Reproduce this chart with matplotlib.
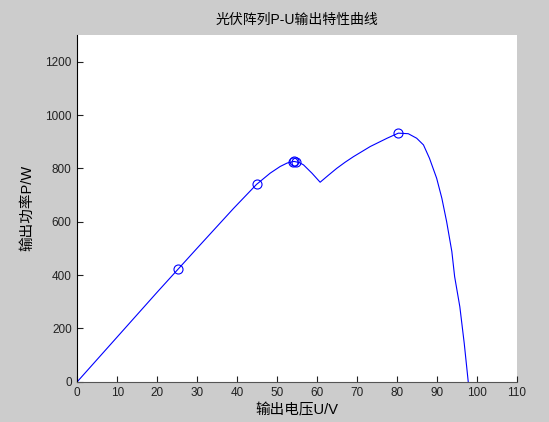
import matplotlib.pyplot as plt
import numpy as np

plt.rcParams['font.family'] = ['Liberation Sans', 'Noto Sans CJK SC', 'DejaVu Sans']

# P-U curve of the PV array under partial shading (two local maxima)
u = [0, 10, 20, 30, 39.1, 44.85, 48.25, 50.75, 52.5, 54.2, 55.5, 56.6, 58.7, 60.75,
     62.8, 64.9, 67, 69.1, 73.3, 77.5, 80.3, 82.8, 84.9, 86.6, 88.1, 89.9,
     91.2, 92.4, 93.7, 94.4, 95.7, 96.8, 97.8]
p = [0, 168, 336, 501, 650, 740, 782, 807, 820, 826, 822, 813, 782, 748,
     774, 800, 823, 844, 882, 913, 932, 930, 913, 888, 838, 763,
     688, 600, 488, 394, 281, 144, 0]

# sampled operating points from the MPPT search
u_mark = [25.2, 44.85, 53.9, 54.3, 54.7, 80.3]
p_mark = [423, 740, 825, 826, 825, 932]

fig = plt.figure(figsize=(5.49, 4.22), dpi=100, facecolor='#cccccc')
ax = fig.add_axes([0.1408, 0.0955, 0.8009, 0.8215])
ax.set_facecolor('white')

ax.plot(u, p, color='#0000ff', lw=0.8)
ax.plot(u_mark, p_mark, 'o', ms=6.5, mfc='none', mec='#0000ff', mew=0.8)

ax.set_xlim(0, 110)
ax.set_ylim(0, 1300)
ax.set_xticks(np.arange(0, 111, 10))
ax.set_yticks(np.arange(0, 1201, 200))
ax.tick_params(direction='in', length=4, width=0.8, labelsize=8.5, colors='#222222', pad=4)
ax.spines['top'].set_visible(False)
ax.spines['right'].set_visible(False)
ax.spines['left'].set_color('black')
ax.spines['bottom'].set_color('#555555')

ax.set_title('光伏阵列P-U输出特性曲线', fontsize=10, pad=8)
ax.set_xlabel('输出电压U/V', fontsize=10.5, labelpad=3)
ax.set_ylabel('输出功率P/W', fontsize=10.5, labelpad=8)

fig.savefig('out.png', dpi=100, facecolor=fig.get_facecolor())
